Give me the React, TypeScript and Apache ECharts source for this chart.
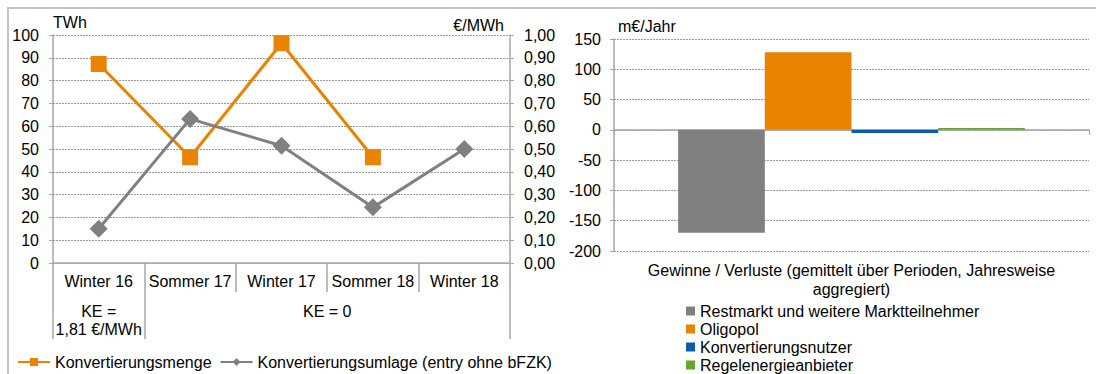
import React, { useEffect, useRef } from "react";
import * as echarts from "echarts";

// Left panel: conversion volume and conversion levy per period
const periods = ["Winter 16", "Sommer 17", "Winter 17", "Sommer 18", "Winter 18"];
const mengeTWh: (number | null)[] = [87.3, 46.4, 96.4, 46.4, null];
const umlageEurMWh = [0.15, 0.632, 0.514, 0.244, 0.5];
const mengeTicks = { min: 0, max: 100, step: 10 };
const umlageTicks = { min: 0, max: 1, step: 0.1 };
const keGroupBounds = [0, 1, 5];
const keGroupLabels = [
  { at: 0.5, text: "KE =\n1,81 €/MWh" },
  { at: 3, text: "KE = 0" },
];

// Right panel: gains / losses by market participant
const gainCategory = ["Gewinne / Verluste (gemittelt über Perioden, Jahresweise\naggregiert)"];
const participants = [
  "Restmarkt und weitere Marktteilnehmer",
  "Oligopol",
  "Konvertierungsnutzer",
  "Regelenergieanbieter",
];
const gainsMioEur = [-170, 128, -5, 3];
const gainTicks = { min: -200, max: 150, step: 50 };

const ORANGE = "#E98300";
const GRAY = "#808080";
const BLUE = "#0B5CAD";
const GREEN = "#62A82C";
const participantColors = [GRAY, ORANGE, BLUE, GREEN];

const AXIS = "#a6a6a6";
const FONT = "'Liberation Sans', Arial, sans-serif";

export default function App() {
  const ref = useRef<HTMLDivElement>(null);

  useEffect(() => {
    if (!ref.current) return;
    const chart = echarts.init(ref.current, undefined, { renderer: "svg" });

    const grid = { type: [2, 1] as number[], color: "#9a9a9a", width: 1 };
    const label = { color: "#000", fontSize: 16, fontFamily: FONT };

    chart.setOption({
      animation: false,
      textStyle: { fontFamily: FONT, color: "#000" },
      graphic: [
        {
          type: "rect",
          shape: { x: 8, y: 8, width: 1200, height: 500 },
          style: { fill: "none", stroke: "#c4c4c4", lineWidth: 2 },
          silent: true,
        },
      ],
      grid: [
        { left: 53, right: 586, top: 35, bottom: 111, outerBoundsMode: "none" },
        { left: 614, right: 7, top: 39, bottom: 123, outerBoundsMode: "none" },
      ],
      xAxis: [
        {
          type: "category",
          gridIndex: 0,
          data: periods,
          boundaryGap: true,
          axisLine: { lineStyle: { color: AXIS, width: 1.5 } },
          axisTick: { show: true, interval: 0, length: 29, lineStyle: { color: AXIS, width: 1.5 } },
          axisLabel: { ...label, interval: 0, margin: 10 },
        },
        {
          type: "value",
          gridIndex: 0,
          position: "bottom",
          offset: 29,
          min: 0,
          max: 5,
          axisLine: { show: false, onZero: false },
          splitLine: { show: false },
          axisTick: {
            show: true,
            customValues: keGroupBounds,
            length: 47,
            lineStyle: { color: AXIS, width: 1.5 },
          },
          axisLabel: {
            ...label,
            lineHeight: 18,
            margin: 10,
            customValues: keGroupLabels.map((d) => d.at),
            formatter: (v: number) => keGroupLabels.find((d) => d.at === v)?.text ?? "",
          },
        },
        {
          type: "category",
          gridIndex: 1,
          data: gainCategory,
          axisLine: { onZero: true, lineStyle: { color: AXIS, width: 1.5 } },
          axisTick: { show: true, length: 5, lineStyle: { color: AXIS } },
          axisLabel: { show: false },
          name: gainCategory[0],
          nameLocation: "middle",
          nameGap: 10,
          nameTextStyle: { ...label, lineHeight: 19, verticalAlign: "top" },
        },
      ],
      yAxis: [
        {
          type: "value",
          gridIndex: 0,
          position: "left",
          min: mengeTicks.min,
          max: mengeTicks.max,
          interval: mengeTicks.step,
          axisLine: { show: true, lineStyle: { color: AXIS, width: 1.5 } },
          axisTick: { show: true, length: 4, lineStyle: { color: AXIS } },
          axisLabel: { ...label, margin: 14 },
          splitLine: { show: true, lineStyle: grid },
          name: "TWh",
          nameGap: 5,
          nameTextStyle: { ...label, align: "left" },
        },
        {
          type: "value",
          gridIndex: 0,
          position: "right",
          min: umlageTicks.min,
          max: umlageTicks.max,
          interval: umlageTicks.step,
          axisLine: { show: true, lineStyle: { color: AXIS, width: 1.5 } },
          axisTick: { show: true, length: 4, lineStyle: { color: AXIS } },
          axisLabel: {
            ...label,
            margin: 14,
            formatter: (v: number) => v.toFixed(2).replace(".", ","),
          },
          splitLine: { show: false },
          name: "€/MWh",
          nameGap: 2,
          nameTextStyle: { ...label, align: "right", padding: [0, 6, 0, 0] },
        },
        {
          type: "value",
          gridIndex: 1,
          min: gainTicks.min,
          max: gainTicks.max,
          interval: gainTicks.step,
          axisLine: { show: true, lineStyle: { color: AXIS, width: 1.5 } },
          axisTick: { show: true, length: 4, lineStyle: { color: AXIS } },
          axisLabel: { ...label, margin: 13 },
          splitLine: { show: true, lineStyle: grid },
          name: "m€/Jahr",
          nameGap: 5,
          nameTextStyle: { ...label, align: "left", padding: [0, 0, 0, 4] },
        },
      ],
      legend: [
        {
          data: ["Konvertierungsmenge", "Konvertierungsumlage (entry ohne bFZK)"],
          left: 17,
          top: 354,
          padding: 0,
          itemWidth: 32,
          itemHeight: 10,
          itemGap: 8,
          textStyle: { ...label },
        },
        {
          data: participants,
          orient: "vertical",
          left: 686,
          top: 303,
          height: 90,
          padding: 0,
          icon: "rect",
          itemWidth: 9,
          itemHeight: 9,
          itemGap: 2,
          textStyle: { ...label, lineHeight: 16 },
        },
      ],
      series: [
        {
          name: "Konvertierungsmenge",
          type: "line",
          xAxisIndex: 0,
          yAxisIndex: 0,
          data: mengeTWh,
          color: ORANGE,
          lineStyle: { width: 3 },
          symbol: "rect",
          symbolSize: 16,
          connectNulls: false,
        },
        {
          name: "Konvertierungsumlage (entry ohne bFZK)",
          type: "line",
          xAxisIndex: 0,
          yAxisIndex: 1,
          data: umlageEurMWh,
          color: GRAY,
          lineStyle: { width: 3 },
          symbol: "diamond",
          symbolSize: 18,
        },
        ...participants.map((name, i) => ({
          name,
          type: "bar",
          xAxisIndex: 2,
          yAxisIndex: 2,
          data: [gainsMioEur[i]],
          color: participantColors[i],
          barGap: "0%",
          barCategoryGap: "27%",
        })),
      ],
    });

    return () => chart.dispose();
  }, []);

  return (
    <div
      ref={ref}
      style={{ position: "absolute", left: 0, top: 0, width: 1096, height: 374, background: "#fff" }}
    />
  );
}
